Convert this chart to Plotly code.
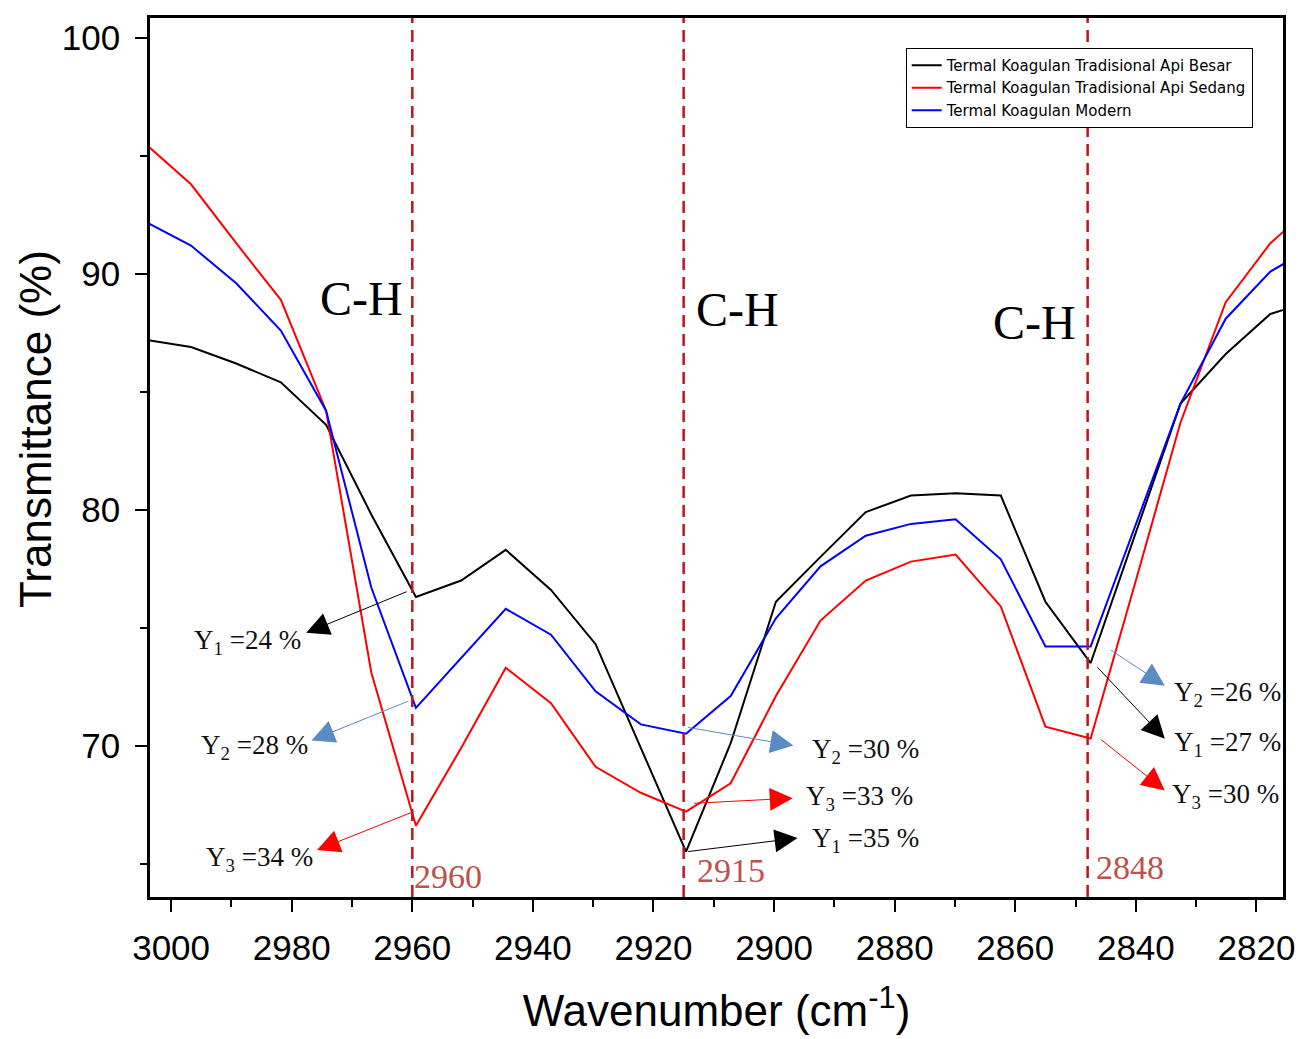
import plotly.graph_objects as go

# ---------------- data ----------------
wavenumber = [3004.2, 2996.7, 2989.2, 2981.8, 2974.3, 2966.8, 2959.4, 2951.9, 2944.5,
              2937.0, 2929.6, 2922.1, 2914.6, 2907.2, 2899.7, 2892.3, 2884.8, 2877.3,
              2869.9, 2862.4, 2855.0, 2847.5, 2840.0, 2832.6, 2825.1, 2817.7, 2810.2]

api_besar = [87.2, 86.9, 86.2, 85.4, 83.6, 79.8, 76.3, 77.0, 78.3, 76.6, 74.3, 69.9, 65.5,
             70.1, 76.1, 78.0, 79.9, 80.6, 80.7, 80.6, 76.1, 73.5, 79.0, 84.5, 86.6, 88.3, 88.9]

api_sedang = [95.5, 93.8, 91.3, 88.9, 84.2, 73.1, 66.6, 69.9, 73.3, 71.8, 69.1, 68.0, 67.2,
              68.4, 72.1, 75.3, 77.0, 77.8, 78.1, 75.9, 70.8, 70.3, 77.0, 83.7, 88.8, 91.3, 93.0]

modern = [92.2, 91.2, 89.6, 87.6, 84.2, 76.7, 71.6, 73.7, 75.8, 74.7, 72.3, 70.9, 70.5,
          72.1, 75.4, 77.6, 78.9, 79.4, 79.6, 77.9, 74.2, 74.2, 79.4, 84.5, 88.1, 90.1, 91.2]

series_names = ["Termal Koagulan Tradisional Api Besar",
                "Termal Koagulan Tradisional Api Sedang",
                "Termal Koagulan Modern"]

peak_positions = [2960, 2915, 2848]
peak_labels = ["2960", "2915", "2848"]
group_label = "C-H"

# arrow annotations: label, tail (on curve), head (near label), label position
y_labels = ["Y<sub>1</sub> =24 %", "Y<sub>2</sub> =28 %", "Y<sub>3</sub> =34 %",
            "Y<sub>2</sub> =30 %", "Y<sub>3</sub> =33 %", "Y<sub>1</sub> =35 %",
            "Y<sub>2</sub> =26 %", "Y<sub>1</sub> =27 %", "Y<sub>3</sub> =30 %"]
arrow_tail = [(2960.7, 76.55), (2960.4, 71.91), (2959.9, 67.19),
              (2914.5, 70.78), (2913.5, 67.55), (2914.5, 65.5),
              (2844.4, 74.09), (2846.6, 73.38), (2846.0, 70.3)]
arrow_head = [(2977.6, 74.78), (2976.7, 70.22), (2975.8, 65.57),
              (2896.8, 70.0), (2896.9, 67.77), (2896.1, 66.08),
              (2835.2, 72.54), (2835.2, 70.29), (2835.2, 68.1)]
label_pos = [(2987.4, 74.4), (2986.1, 69.96), (2985.4, 65.19),
             (2884.8, 69.79), (2885.8, 67.77), (2884.8, 65.99),
             (2824.8, 72.2), (2824.8, 70.05), (2825.1, 67.85)]
arrow_colors = ["#000000", "#5B8BC5", "#FF0000",
                "#5B8BC5", "#FF0000", "#000000",
                "#5B8BC5", "#000000", "#FF0000"]

ch_pos = [(2968.5, 88.94), (2906.0, 88.47), (2856.8, 87.96)]
peak_label_pos = [(2954.1, 64.47), (2907.2, 64.72), (2841.0, 64.81)]

# ---------------- figure ----------------
fig = go.Figure()
for name, vals, col in zip(series_names, [api_besar, api_sedang, modern],
                           ["#000000", "#FF0000", "#0000FF"]):
    fig.add_trace(go.Scatter(x=wavenumber, y=vals, mode="lines", name=name,
                             line=dict(color=col, width=2)))

for p in peak_positions:
    fig.add_shape(type="line", x0=p, x1=p, xref="x", y0=0, y1=1, yref="paper",
                  line=dict(color="#C0141C", width=2.5, dash="12px,7px"))

annotations = []
for (tx, ty), (hx, hy), col in zip(arrow_tail, arrow_head, arrow_colors):
    annotations.append(dict(x=hx, y=hy, ax=tx, ay=ty, xref="x", yref="y",
                            axref="x", ayref="y", text="", showarrow=True,
                            arrowhead=2, arrowsize=4.6, arrowwidth=1,
                            arrowcolor=col))
for txt, (lx, ly) in zip(y_labels, label_pos):
    annotations.append(dict(x=lx, y=ly, xref="x", yref="y", text=txt,
                            showarrow=False,
                            font=dict(family="Liberation Serif", size=27, color="#111111")))
for (cx, cy) in ch_pos:
    annotations.append(dict(x=cx, y=cy, xref="x", yref="y", text=group_label,
                            showarrow=False,
                            font=dict(family="Liberation Serif", size=48, color="#000000")))
for txt, (px, py) in zip(peak_labels, peak_label_pos):
    annotations.append(dict(x=px, y=py, xref="x", yref="y", text=txt,
                            showarrow=False,
                            font=dict(family="Liberation Serif", size=34, color="#C0504D")))
# y-axis title
annotations.append(dict(x=-0.101, y=0.532, xref="paper", yref="paper",
                        text="Transmittance (%)", textangle=-90, showarrow=False,
                        xanchor="center", yanchor="middle",
                        font=dict(family="Liberation Sans", size=44, color="#000000")))

fig.update_layout(
    width=1298, height=1031,
    margin=dict(l=142, r=23, t=7, b=142),
    paper_bgcolor="white", plot_bgcolor="white",
    font=dict(family="Liberation Sans", color="#000000"),
    showlegend=True,
    legend=dict(x=0.667, y=0.966, xanchor="left", yanchor="top",
                bgcolor="white", bordercolor="#000000", borderwidth=1,
                font=dict(family="DejaVu Sans", size=15, color="#000000"),
                tracegroupgap=0, itemwidth=30),
    annotations=annotations,
)

fig.update_xaxes(
    range=[3003.5, 2815.6], tickmode="linear", tick0=3000, dtick=20,
    ticks="outside", ticklen=12, tickwidth=2, tickcolor="#000000",
    showline=True, linecolor="#000000", linewidth=2.5, mirror=True,
    showgrid=False, zeroline=False,
    tickfont=dict(family="Liberation Sans", size=35, color="#000000"),
    ticklabelstandoff=6,
    minor=dict(dtick=10, ticks="outside", ticklen=7, tickwidth=2, tickcolor="#000000", showgrid=False),
    title=dict(text="Wavenumber (cm<sup>-1</sup>)",
               font=dict(family="Liberation Sans", size=44, color="#000000"), standoff=30),
)
fig.update_yaxes(
    range=[63.58, 100.85], tickmode="linear", tick0=70, dtick=10,
    ticks="outside", ticklen=12, tickwidth=2, tickcolor="#000000",
    showline=True, linecolor="#000000", linewidth=2.5, mirror=True,
    showgrid=False, zeroline=False,
    tickfont=dict(family="Liberation Sans", size=35, color="#000000"),
    ticklabelstandoff=8,
    minor=dict(dtick=5, ticks="outside", ticklen=7, tickwidth=2, tickcolor="#000000", showgrid=False),
)

fig.write_html("out.html")
